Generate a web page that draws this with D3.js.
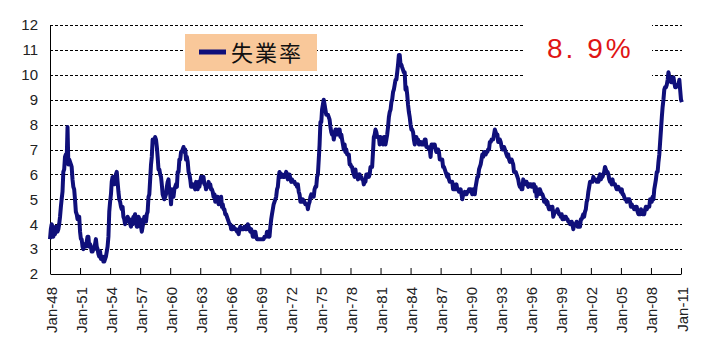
<!DOCTYPE html>
<html>
<head>
<meta charset="utf-8">
<script src="https://cdn.jsdelivr.net/npm/d3@7"></script>
<style>
  body { margin: 0; background: #fff; }
  svg { display: block; font-family: "Liberation Sans", Arial, sans-serif; }
</style>
</head>
<body>
<svg id="chart" width="713" height="355"></svg>
<script>
// monthly unemployment rate (%), Jan 1948 .. Feb 2011
const startYear = 1948;
const unemploymentRate = [
  3.4, 3.8, 4.0, 3.9, 3.5, 3.6, 3.6, 3.9, 3.8, 3.7, 3.8, 4.0,
  4.3, 4.7, 5.0, 5.3, 6.1, 6.2, 6.7, 6.8, 6.6, 7.9, 6.4, 6.6,
  6.5, 6.4, 6.3, 5.8, 5.5, 5.4, 5.0, 4.5, 4.4, 4.2, 4.2, 4.3,
  3.7, 3.4, 3.4, 3.1, 3.0, 3.2, 3.1, 3.1, 3.3, 3.5, 3.5, 3.1,
  3.2, 3.1, 2.9, 2.9, 3.0, 3.0, 3.2, 3.4, 3.1, 3.0, 2.8, 2.7,
  2.9, 2.6, 2.6, 2.7, 2.5, 2.5, 2.6, 2.7, 2.9, 3.1, 3.5, 4.5,
  4.9, 5.2, 5.7, 5.9, 5.9, 5.6, 5.8, 6.0, 6.1, 5.7, 5.3, 5.0,
  4.9, 4.7, 4.6, 4.7, 4.3, 4.2, 4.0, 4.2, 4.1, 4.3, 4.2, 4.2,
  4.0, 3.9, 4.2, 4.0, 4.3, 4.3, 4.4, 4.1, 3.9, 3.9, 4.3, 4.2,
  4.2, 3.9, 3.7, 3.9, 4.1, 4.3, 4.2, 4.1, 4.4, 4.5, 5.1, 5.2,
  5.8, 6.4, 6.7, 7.4, 7.4, 7.3, 7.5, 7.4, 7.1, 6.7, 6.2, 6.2,
  6.0, 5.9, 5.6, 5.2, 5.1, 5.0, 5.1, 5.2, 5.5, 5.7, 5.8, 5.3,
  5.2, 4.8, 5.4, 5.2, 5.1, 5.4, 5.5, 5.6, 5.5, 6.1, 6.1, 6.6,
  6.6, 6.9, 6.9, 7.0, 7.1, 6.9, 7.0, 6.6, 6.7, 6.5, 6.1, 6.0,
  5.8, 5.5, 5.6, 5.6, 5.5, 5.5, 5.4, 5.7, 5.6, 5.4, 5.7, 5.5,
  5.7, 5.9, 5.7, 5.7, 5.9, 5.6, 5.6, 5.4, 5.5, 5.5, 5.7, 5.5,
  5.6, 5.4, 5.4, 5.3, 5.1, 5.2, 4.9, 5.0, 5.1, 5.1, 4.8, 5.0,
  4.9, 5.1, 4.7, 4.8, 4.6, 4.6, 4.4, 4.4, 4.3, 4.2, 4.1, 4.0,
  4.0, 3.8, 3.8, 3.8, 3.9, 3.8, 3.8, 3.8, 3.7, 3.7, 3.6, 3.8,
  3.9, 3.8, 3.8, 3.8, 3.8, 3.9, 3.8, 3.8, 3.8, 4.0, 3.9, 3.8,
  3.7, 3.8, 3.7, 3.5, 3.5, 3.7, 3.7, 3.5, 3.4, 3.4, 3.4, 3.4,
  3.4, 3.4, 3.4, 3.4, 3.4, 3.5, 3.5, 3.5, 3.7, 3.7, 3.5, 3.5,
  3.9, 4.2, 4.4, 4.6, 4.8, 4.9, 5.0, 5.1, 5.4, 5.5, 5.9, 6.1,
  5.9, 5.9, 6.0, 5.9, 5.9, 5.9, 6.0, 6.1, 6.0, 5.8, 6.0, 6.0,
  5.8, 5.7, 5.8, 5.7, 5.7, 5.7, 5.6, 5.6, 5.5, 5.6, 5.3, 5.2,
  4.9, 5.0, 4.9, 5.0, 4.9, 4.9, 4.8, 4.8, 4.8, 4.6, 4.8, 4.9,
  5.1, 5.2, 5.1, 5.1, 5.1, 5.4, 5.5, 5.5, 5.9, 6.0, 6.6, 7.2,
  8.1, 8.1, 8.6, 8.8, 9.0, 8.8, 8.6, 8.4, 8.4, 8.4, 8.3, 8.2,
  7.9, 7.7, 7.6, 7.7, 7.4, 7.6, 7.8, 7.8, 7.6, 7.7, 7.8, 7.8,
  7.5, 7.6, 7.4, 7.2, 7.0, 7.2, 6.9, 7.0, 6.8, 6.8, 6.8, 6.4,
  6.4, 6.3, 6.3, 6.1, 6.0, 5.9, 6.2, 5.9, 6.0, 5.8, 5.9, 6.0,
  5.9, 5.9, 5.8, 5.8, 5.6, 5.7, 5.7, 6.0, 5.9, 6.0, 5.9, 6.0,
  6.3, 6.3, 6.3, 6.9, 7.5, 7.6, 7.8, 7.7, 7.5, 7.5, 7.5, 7.2,
  7.5, 7.4, 7.4, 7.2, 7.5, 7.5, 7.2, 7.4, 7.6, 7.9, 8.3, 8.5,
  8.6, 8.9, 9.0, 9.3, 9.4, 9.6, 9.8, 9.8, 10.1, 10.4, 10.8, 10.8,
  10.4, 10.4, 10.3, 10.2, 10.1, 10.1, 9.4, 9.5, 9.2, 8.8, 8.5, 8.3,
  8.0, 7.8, 7.8, 7.7, 7.4, 7.2, 7.5, 7.5, 7.3, 7.4, 7.2, 7.3,
  7.3, 7.2, 7.2, 7.3, 7.2, 7.4, 7.4, 7.1, 7.1, 7.1, 7.0, 7.0,
  6.7, 7.2, 7.2, 7.1, 7.2, 7.2, 7.0, 6.9, 7.0, 7.0, 6.9, 6.6,
  6.6, 6.6, 6.6, 6.3, 6.3, 6.2, 6.1, 6.0, 5.9, 6.0, 5.8, 5.7,
  5.7, 5.7, 5.7, 5.4, 5.6, 5.4, 5.4, 5.6, 5.4, 5.4, 5.3, 5.3,
  5.4, 5.2, 5.0, 5.2, 5.2, 5.3, 5.2, 5.2, 5.3, 5.3, 5.4, 5.4,
  5.4, 5.3, 5.2, 5.4, 5.4, 5.2, 5.5, 5.7, 5.9, 5.9, 6.2, 6.3,
  6.4, 6.6, 6.8, 6.7, 6.9, 6.9, 6.8, 6.9, 6.9, 7.0, 7.0, 7.3,
  7.3, 7.4, 7.4, 7.4, 7.6, 7.8, 7.7, 7.6, 7.6, 7.3, 7.4, 7.4,
  7.3, 7.1, 7.0, 7.1, 7.1, 7.0, 6.9, 6.8, 6.7, 6.8, 6.6, 6.5,
  6.6, 6.6, 6.5, 6.4, 6.1, 6.1, 6.1, 6.0, 5.9, 5.8, 5.6, 5.5,
  5.6, 5.4, 5.4, 5.8, 5.6, 5.6, 5.7, 5.7, 5.6, 5.5, 5.6, 5.6,
  5.6, 5.5, 5.5, 5.6, 5.6, 5.3, 5.5, 5.1, 5.2, 5.2, 5.4, 5.4,
  5.3, 5.2, 5.2, 5.1, 4.9, 5.0, 4.9, 4.8, 4.9, 4.7, 4.6, 4.7,
  4.6, 4.6, 4.7, 4.3, 4.4, 4.5, 4.5, 4.5, 4.6, 4.5, 4.4, 4.4,
  4.3, 4.4, 4.2, 4.3, 4.2, 4.3, 4.3, 4.2, 4.2, 4.1, 4.1, 4.0,
  4.0, 4.1, 4.0, 3.8, 4.0, 4.0, 4.0, 4.1, 3.9, 3.9, 3.9, 3.9,
  4.2, 4.2, 4.3, 4.4, 4.3, 4.5, 4.6, 4.9, 5.0, 5.3, 5.5, 5.7,
  5.7, 5.7, 5.7, 5.9, 5.8, 5.8, 5.8, 5.7, 5.7, 5.7, 5.9, 6.0,
  5.8, 5.9, 5.9, 6.0, 6.1, 6.3, 6.2, 6.1, 6.1, 6.0, 5.8, 5.7,
  5.7, 5.6, 5.8, 5.6, 5.6, 5.6, 5.5, 5.4, 5.4, 5.5, 5.4, 5.4,
  5.3, 5.4, 5.2, 5.2, 5.1, 5.0, 5.0, 4.9, 5.0, 5.0, 5.0, 4.9,
  4.7, 4.8, 4.7, 4.7, 4.6, 4.6, 4.7, 4.7, 4.5, 4.4, 4.5, 4.4,
  4.6, 4.5, 4.4, 4.5, 4.4, 4.6, 4.7, 4.6, 4.7, 4.7, 4.7, 5.0,
  5.0, 4.9, 5.1, 5.0, 5.4, 5.6, 5.8, 6.1, 6.1, 6.5, 6.8, 7.3,
  7.8, 8.3, 8.7, 9.0, 9.4, 9.5, 9.5, 9.6, 9.8, 10.1, 9.9, 9.9,
  9.7, 9.7, 9.7, 9.9, 9.7, 9.5, 9.5, 9.6, 9.6, 9.6, 9.8, 9.4,
  9.0, 8.9
];
const yTicks = [2, 3, 4, 5, 6, 7, 8, 9, 10, 11, 12];
const tickLabels = ["Jan-48", "Jan-51", "Jan-54", "Jan-57", "Jan-60", "Jan-63", "Jan-66",
  "Jan-69", "Jan-72", "Jan-75", "Jan-78", "Jan-81", "Jan-84", "Jan-87", "Jan-90", "Jan-93",
  "Jan-96", "Jan-99", "Jan-02", "Jan-05", "Jan-08", "Jan-11"];
const legendLabel = "失業率";
const latestLabel = "8. 9%";

const svg = d3.select("#chart");
const margin = { top: 25, right: 32, bottom: 81, left: 50 };
const width = +svg.attr("width") - margin.left - margin.right;
const height = +svg.attr("height") - margin.top - margin.bottom;

const parseTick = d3.timeParse("%b-%y");
const tickDates = tickLabels.map(s => {
    const d = parseTick(s);
    // d3 reads 00-68 as 20xx, the axis only runs to 2011
    if (d.getFullYear() > 2011) d.setFullYear(d.getFullYear() - 100);
    return d;
});
const data = unemploymentRate.map((v, i) => ({ date: new Date(startYear, i, 1), value: v }));

const x = d3.scaleTime()
    .domain([new Date(1948, 0, 1), new Date(2011, 0, 1)])
    .range([0, width]);

const y = d3.scaleLinear()
    .domain([2, 12])
    .range([height, 0]);

const g = svg.append("g").attr("transform", "translate(" + margin.left + "," + margin.top + ")");

// dashed grid lines
g.append("g")
    .selectAll("line")
    .data(yTicks.filter(d => d > 2))
    .join("line")
    .attr("x1", 0)
    .attr("x2", width + 1)
    .attr("y1", d => Math.round(y(d)) + 0.5)
    .attr("y2", d => Math.round(y(d)) + 0.5)
    .attr("stroke", "#000")
    .attr("stroke-width", 1)
    .attr("stroke-dasharray", "3,2");

// y axis labels
const yAxis = g.append("g")
    .call(d3.axisLeft(y).tickValues(yTicks).tickSize(0).tickPadding(12).tickFormat(d3.format("d")));
yAxis.select(".domain").remove();
yAxis.selectAll("text")
    .attr("font-size", 15)
    .attr("font-family", "\"Liberation Sans\", Arial, sans-serif")
    .attr("fill", "#222");

g.append("line")
    .attr("x1", 0.5).attr("x2", 0.5)
    .attr("y1", 0).attr("y2", height)
    .attr("stroke", "#000");

// x axis, ticks point inward
const xAxis = g.append("g")
    .attr("transform", "translate(0," + height + ")")
    .call(d3.axisBottom(x).tickValues(tickDates).tickSizeInner(-6).tickSizeOuter(0).tickFormat((d, i) => tickLabels[i]));
xAxis.select(".domain").attr("stroke", "#000");
xAxis.selectAll(".tick line").attr("stroke", "#000");
xAxis.selectAll("text")
    .attr("font-size", 15)
    .attr("font-family", "\"Liberation Sans\", Arial, sans-serif")
    .attr("fill", "#222")
    .attr("text-anchor", "end")
    .attr("dy", null)
    .attr("y", 0)
    .attr("transform", "translate(6,13) rotate(-90)");

// white patch behind the latest value
g.append("rect")
    .attr("x", 473).attr("y", -10)
    .attr("width", 129).attr("height", 70)
    .attr("fill", "#fff");

const line = d3.line()
    .x(d => x(d.date))
    .y(d => y(d.value));

g.append("path")
    .datum(data)
    .attr("fill", "none")
    .attr("stroke", "#0f0f7a")
    .attr("stroke-width", 4)
    .attr("stroke-linejoin", "round")
    .attr("d", line);

// legend
const legend = svg.append("g").attr("transform", "translate(185,34)");
legend.append("rect")
    .attr("width", 132).attr("height", 37)
    .attr("fill", "#f9c89a");
legend.append("line")
    .attr("x1", 14).attr("x2", 41)
    .attr("y1", 18).attr("y2", 18)
    .attr("stroke", "#0f0f7a")
    .attr("stroke-width", 5);
legend.append("text")
    .attr("x", 46).attr("y", 27)
    .attr("font-size", 22)
    .attr("letter-spacing", 2)
    .attr("font-family", "\"Noto Sans CJK JP\", sans-serif")
    .attr("fill", "#111")
    .text(legendLabel);

svg.append("text")
    .attr("x", 547).attr("y", 58)
    .attr("font-size", 28)
    .attr("letter-spacing", 3)
    .attr("font-family", "\"Liberation Sans\", Arial, sans-serif")
    .attr("fill", "#e01414")
    .attr("xml:space", "preserve")
    .text(latestLabel);
</script>
</body>
</html>
